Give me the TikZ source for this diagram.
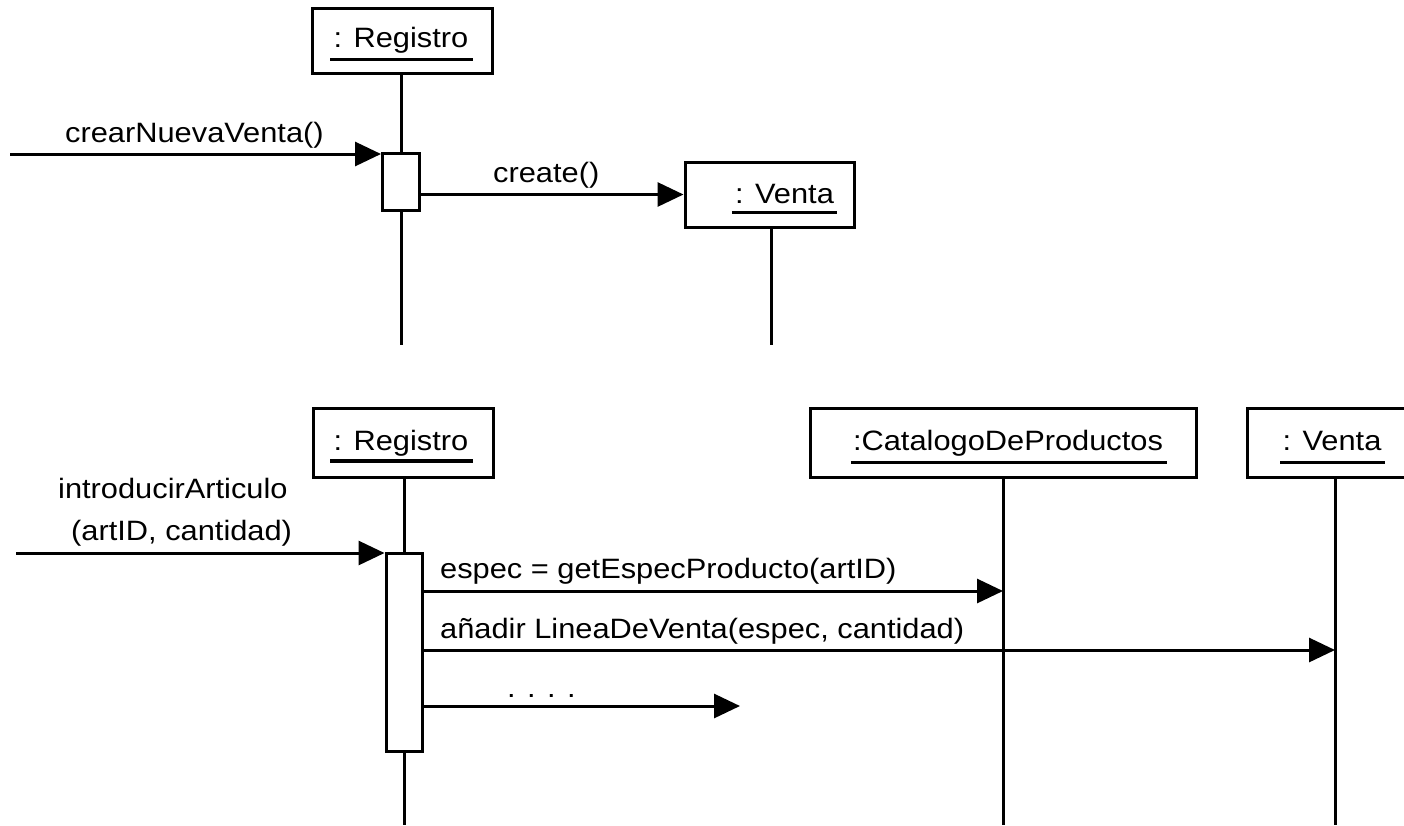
\documentclass[tikz,border=0pt]{standalone}
\usepackage{fontspec}
\setmainfont{Liberation Sans}[FakeStretch=1.1]
\usetikzlibrary{arrows.meta,calc}
\tikzset{
  obj/.style={draw, line width=3pt, inner sep=0pt, fill=white},
  actbox/.style={draw, line width=3pt, inner sep=0pt, fill=white},
  txt/.style={inner sep=0pt, anchor=base, font=\fontsize{28}{34}\selectfont},
  lbl/.style={inner sep=0pt, anchor=base west, font=\fontsize{28}{34}\selectfont},
  uline/.style={line width=3pt},
  life/.style={line width=3pt},
  msg/.style={line width=3pt, -{Triangle[length=26pt,width=24pt]}},
}
\begin{document}
\begin{tikzpicture}[x=1pt,y=-1pt]
\path[use as bounding box] (0,0) rectangle (1404,825);
\clip (0,0) rectangle (1404,825);

% ---------- top diagram ----------
\coordinate (end1) at (0,345);
\node[obj, minimum width=180pt, minimum height=65pt] (reg1) at (402,40.5) {};
\node[txt] (reg1t) at (401,47) {: Registro};
\draw[uline] ($(reg1t.base west)+(-3,12)$) -- ($(reg1t.base east)+(4,12)$);

\node[actbox, minimum width=37pt, minimum height=57pt] (act1) at (401,181.5) {};
\draw[life] (reg1.south -| act1.north) -- (act1.north);
\draw[life] (act1.south) -- (act1.south |- end1);

\coordinate (in1) at (10,154);
\draw[msg] (in1) -- (in1 -| act1.west);
\node[lbl] (l1) at (65,142) {crearNuevaVenta()};

\node[obj, minimum width=169pt, minimum height=65pt] (ven1) at (769.5,194.5) {};
\node[txt] (ven1t) at (784.5,203) {: Venta};
\draw[uline] ($(ven1t.base west)+(-3,9)$) -- ($(ven1t.base east)+(3,9)$);
\draw[life] (ven1.south -| 771,0) -- (771,345);

\draw[msg] (act1.east |- ven1.west) -- (ven1.west);
\node[lbl] (l2) at (493,182) {create()};

% ---------- bottom diagram ----------
\coordinate (end2) at (0,825);
\node[obj, minimum width=180pt, minimum height=69pt] (reg2) at (403,442.5) {};
\node[txt] (reg2t) at (401,450) {: Registro};
\draw[line width=4pt] ($(reg2t.base west)+(-3,11)$) -- ($(reg2t.base east)+(4,11)$);

\node[obj, minimum width=386pt, minimum height=69pt] (cat) at (1003,442.5) {};
\node[txt] (catt) at (1008,450) {:CatalogoDeProductos};
\draw[uline] ($(catt.base west)+(-2,12)$) -- ($(catt.base east)+(4,12)$);

\node[obj, minimum width=176pt, minimum height=69pt] (ven2) at (1335,442.5) {};
\node[txt] (ven2t) at (1332,450) {: Venta};
\draw[uline] ($(ven2t.base west)+(-2,12)$) -- ($(ven2t.base east)+(3,12)$);

\node[actbox, minimum width=36pt, minimum height=198pt] (act2) at (404,652) {};
\draw[life] (reg2.south -| act2.north) -- (act2.north);
\draw[life] (act2.south) -- (act2.south |- end2);
\draw[life] (cat.south) -- (cat.south |- end2);
\draw[life] (ven2.south) -- (ven2.south |- end2);

\coordinate (in2) at (16,553);
\draw[msg] (in2) -- (in2 -| act2.west);
\node[lbl] (l3) at (58,498) {introducirArticulo};
\node[lbl] (l4) at (71,540) {(artID, cantidad)};

\coordinate (y1) at (0,591);
\coordinate (y2) at (0,650);
\coordinate (y3) at (0,706);
\coordinate (free) at (740,706);
\draw[msg] (act2.east |- y1) -- (cat.south |- y1);
\node[lbl] (l5) at (440,578) {espec = getEspecProducto(artID)};
\draw[msg] (act2.east |- y2) -- (ven2.south |- y2);
\node[lbl] (l6) at (440,638) {añadir LineaDeVenta(espec, cantidad)};
\draw[msg] (act2.east |- y3) -- (free);
\node[lbl] (l7) at (507,697) {. . . .};
\end{tikzpicture}
\end{document}
